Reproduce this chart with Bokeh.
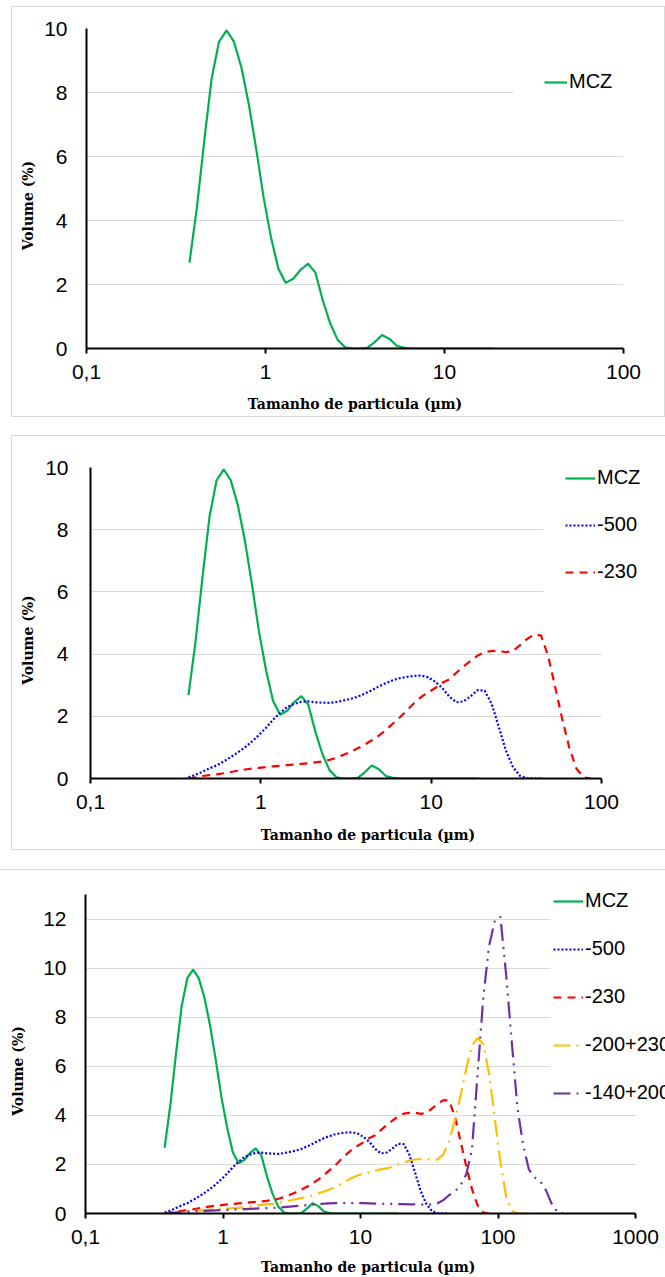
import math
from bokeh.plotting import figure
from bokeh.models import (FixedTicker, CustomJSTickFormatter, Legend, LegendItem,
                          BoxAnnotation, InlineStyleSheet, Range1d)
from bokeh.embed import file_html
from bokeh.resources import INLINE

# ---------------- data ----------------
size_um = [0.376, 0.414, 0.455, 0.500, 0.550, 0.606, 0.666, 0.733, 0.806, 0.887,
           0.975, 1.073, 1.180, 1.298, 1.428, 1.571, 1.728, 1.901, 2.091, 2.300,
           2.530, 2.783, 3.061, 3.367, 3.704, 4.074, 4.482, 4.930, 5.423, 5.965,
           6.562, 7.218, 7.940, 8.734, 9.607, 10.57, 11.62, 12.79, 14.06, 15.47,
           17.02, 18.72, 20.59, 22.65, 24.92, 27.41, 30.15, 33.17, 36.48, 40.13,
           44.14, 48.56, 53.41, 58.75, 64.63, 71.09, 78.20, 86.02, 94.62, 104.1,
           114.5, 125.9, 138.5, 152.4, 167.6, 184.4, 202.8, 223.1, 245.4, 270.0,
           297.0, 326.7]

mcz = [2.68, 4.42, 6.50, 8.43, 9.59, 9.94, 9.59, 8.79, 7.65, 6.24,
       4.73, 3.48, 2.49, 2.05, 2.18, 2.46, 2.65, 2.37, 1.50, 0.78,
       0.27, 0.04, 0.00, 0.00, 0.02, 0.20, 0.42, 0.30, 0.08, 0.02,
       0, 0, 0, 0, 0, 0, 0, 0, 0, 0, 0, 0]

m500 = [0.04, 0.12, 0.22, 0.33, 0.42, 0.55, 0.69, 0.84, 1.00, 1.19,
        1.40, 1.63, 1.89, 2.11, 2.30, 2.40, 2.47, 2.48, 2.45, 2.44,
        2.43, 2.46, 2.51, 2.56, 2.63, 2.73, 2.84, 2.96, 3.07, 3.16,
        3.23, 3.27, 3.30, 3.31, 3.25, 3.11, 2.91, 2.63, 2.45, 2.48,
        2.64, 2.84, 2.83, 2.40, 1.67, 0.91, 0.38, 0.09, 0.01, 0.00, 0.00]

m230 = [0.00, 0.04, 0.08, 0.11, 0.13, 0.17, 0.21, 0.25, 0.29, 0.32,
        0.34, 0.37, 0.39, 0.41, 0.43, 0.45, 0.47, 0.49, 0.52, 0.55,
        0.60, 0.67, 0.76, 0.86, 0.97, 1.09, 1.23, 1.38, 1.56, 1.77,
        1.97, 2.20, 2.42, 2.62, 2.77, 2.91, 3.08, 3.19, 3.40, 3.60,
        3.78, 3.95, 4.07, 4.10, 4.11, 4.06, 4.10, 4.28, 4.48, 4.62,
        4.60, 3.95, 2.95, 1.93, 1.00, 0.33, 0.04, 0.00]

m200_230 = [0.00, 0.02, 0.05, 0.07, 0.09, 0.11, 0.12, 0.14, 0.16, 0.17,
            0.19, 0.20, 0.22, 0.23, 0.26, 0.29, 0.32, 0.35, 0.37, 0.39,
            0.43, 0.48, 0.53, 0.58, 0.63, 0.67, 0.74, 0.82, 0.90, 0.98,
            1.08, 1.20, 1.33, 1.46, 1.56, 1.61, 1.68, 1.74, 1.80, 1.84,
            1.90, 2.00, 2.08, 2.15, 2.20, 2.22, 2.22, 2.19, 2.20, 2.42,
            2.95, 3.80, 4.80, 5.90, 6.85, 7.15, 6.90, 5.70, 3.90, 2.10,
            0.70, 0.10, 0.02, 0.00, 0.00]

m140_200 = [0.00, 0.02, 0.04, 0.06, 0.08, 0.09, 0.10, 0.11, 0.12, 0.13,
            0.14, 0.15, 0.16, 0.17, 0.18, 0.19, 0.20, 0.21, 0.22, 0.23,
            0.24, 0.26, 0.28, 0.30, 0.32, 0.34, 0.36, 0.38, 0.40, 0.41,
            0.42, 0.42, 0.42, 0.42, 0.42, 0.42, 0.41, 0.40, 0.40, 0.39,
            0.39, 0.38, 0.38, 0.37, 0.37, 0.36, 0.36, 0.37, 0.42, 0.55,
            0.75, 0.90, 1.15, 1.60, 2.60, 5.70, 8.80, 10.90, 11.90, 12.10,
            9.75, 7.00, 4.30, 2.80, 1.80, 1.47, 1.32, 0.95, 0.40, 0.06,
            0.00]

series_names = ["MCZ", "-500", "-230", "-200+230", "-140+200"]
series_values = [mcz, m500, m230, m200_230, m140_200]

x_ticks_100 = [0.1, 1, 10, 100]
x_ticks_1000 = [0.1, 1, 10, 100, 1000]
y_ticks_10 = [0, 2, 4, 6, 8, 10]
y_ticks_12 = [0, 2, 4, 6, 8, 10, 12]

x_title = "Tamanho de particula (µm)"
y_title = "Volume (%)"

# ---------------- styles ----------------
STYLE = {
    "MCZ": dict(color="#00B050", dash="solid"),
    "-500": dict(color="#0000FF", dash="2 2"),
    "-230": dict(color="#FF0000", dash="8 6"),
    "-200+230": dict(color="#FFC000", dash="17 6 2 6"),
    "-140+200": dict(color="#7030A0", dash="17 6 2 6 2 6"),
}
TICK_FONT = "Liberation Sans"
TITLE_FONT = "DejaVu Serif"
W = 665
NB = "\u00a0"


def make_panel(height, nseries, xmax, ymax, xticks, yticks,
               left, plot_right, frame_right, plot_top, top_extra, bottom,
               legend_loc, legend_gw, legend_spacing, mask,
               ylab_standoff, ytitle_standoff, xtitle_standoff,
               xtitle_pad, ytitle_pad, css):
    # plot area: x from `left` to `plot_right`, y from `plot_top` to height-bottom.
    # The frame is a little larger (right / top) so the legend is never clipped;
    # the axes keep their true extent through `bounds`.
    decade_px = (plot_right - left) / (math.log10(xmax) + 1)
    x_end = 10 ** (math.log10(xmax) + (frame_right - plot_right) / decade_px)
    plot_h = height - bottom - plot_top
    y_end = ymax + top_extra * ymax / plot_h
    p = figure(width=W, height=height, x_axis_type="log",
               x_range=Range1d(0.1, x_end), y_range=Range1d(0, y_end),
               output_backend="svg", toolbar_location=None,
               min_border_left=left, min_border_right=W - frame_right,
               min_border_top=plot_top - top_extra, min_border_bottom=bottom)
    p.outline_line_color = None
    p.background_fill_color = "white"
    p.border_fill_color = "white"
    p.xgrid.visible = False
    p.ygrid.grid_line_color = "#D9D9D9"
    p.ygrid.grid_line_width = 1
    p.ygrid.ticker = FixedTicker(ticks=yticks, minor_ticks=[])

    xa = p.xaxis[0]
    xa.bounds = (0.1, xmax)
    xa.ticker = FixedTicker(ticks=xticks, minor_ticks=[])
    xa.formatter = CustomJSTickFormatter(
        code="return tick < 1 ? String(tick).replace('.', ',') : String(tick);")
    xa.axis_line_color = "black"
    xa.axis_line_width = 2
    xa.major_tick_out = 5
    xa.major_tick_in = 0
    xa.major_tick_line_width = 2
    xa.major_tick_line_color = "black"
    xa.minor_tick_out = 0
    xa.minor_tick_in = 0
    xa.major_label_text_font = TICK_FONT
    xa.major_label_text_font_size = "21px"
    xa.major_label_text_color = "black"
    xa.major_label_standoff = 11
    xa.axis_label = x_title + NB * xtitle_pad
    xa.axis_label_text_font = TITLE_FONT
    xa.axis_label_text_font_style = "bold"
    xa.axis_label_text_font_size = "14px"
    xa.axis_label_text_color = "black"
    xa.axis_label_standoff = xtitle_standoff

    ya = p.yaxis[0]
    ya.bounds = (0, ymax)
    ya.ticker = FixedTicker(ticks=yticks, minor_ticks=[])
    ya.axis_line_color = "black"
    ya.axis_line_width = 2
    ya.major_tick_out = 0
    ya.major_tick_in = 0
    ya.minor_tick_out = 0
    ya.minor_tick_in = 0
    ya.major_label_text_font = TICK_FONT
    ya.major_label_text_font_size = "21px"
    ya.major_label_text_color = "black"
    ya.major_label_standoff = ylab_standoff
    ya.axis_label = y_title + NB * ytitle_pad
    ya.axis_label_text_font = TITLE_FONT
    ya.axis_label_text_font_style = "bold"
    ya.axis_label_text_font_size = "14px"
    ya.axis_label_text_color = "black"
    ya.axis_label_standoff = ytitle_standoff

    # white strip right of the plot area (grid lines stop at the last tick)
    p.add_layout(BoxAnnotation(left=plot_right - left, right=2000, bottom=-50, top=2000,
                               left_units="screen", right_units="screen",
                               bottom_units="screen", top_units="screen",
                               fill_color="white", fill_alpha=1.0,
                               line_alpha=0, level="underlay"))
    # white legend background hiding the upper grid lines
    ml, mb = mask
    p.add_layout(BoxAnnotation(left=ml, right=2000, bottom=mb, top=2000,
                               left_units="screen", right_units="screen",
                               bottom_units="screen", top_units="screen",
                               fill_color="white", fill_alpha=1.0,
                               line_alpha=0, level="underlay"))

    items = []
    for name, vals in zip(series_names[:nseries], series_values[:nseries]):
        st = STYLE[name]
        r = p.line(size_um[:len(vals)], vals, line_color=st["color"],
                   line_width=2.2, line_dash=st["dash"])
        items.append(LegendItem(label=name, renderers=[r]))

    legend = Legend(items=items, location=legend_loc, orientation="vertical",
                    glyph_width=legend_gw, glyph_height=20, label_height=20,
                    label_standoff=2, spacing=legend_spacing, padding=0, margin=0,
                    background_fill_alpha=0, border_line_color=None,
                    label_text_font=TICK_FONT, label_text_font_size="20px",
                    label_text_color="black")
    p.add_layout(legend)

    p.stylesheets = [InlineStyleSheet(css=css)]
    return p


css1 = (":host{position:relative;} :host::after{content:'';position:absolute;"
        "left:11px;top:6px;width:654px;height:411px;box-sizing:border-box;"
        "border:1px solid #D9D9D9;pointer-events:none;}")
css2 = (":host{position:relative;} :host::after{content:'';position:absolute;"
        "left:11px;top:9px;width:654px;height:415px;box-sizing:border-box;"
        "border:1px solid #D9D9D9;border-right:none;pointer-events:none;}")
css3 = (":host{position:relative;} :host::after{content:'';position:absolute;"
        "left:0px;top:9px;width:665px;height:1px;background:#D9D9D9;"
        "pointer-events:none;}")

p1 = make_panel(426, 1, 100, 10, x_ticks_100, y_ticks_10, 86, 623, 623, 28, 0, 78,
                (458, 255), 23, 24, (427, 228), 19, 5, 14, 0, 7, css1)
p2 = make_panel(434, 3, 100, 10, x_ticks_100, y_ticks_10, 90, 601, 645, 41, 0, 82,
                (475, 195), 30, 24, (453, 158), 22, 6, 15, 0, 7, css2)
p3 = make_panel(417, 5, 1000, 13, x_ticks_1000, y_ticks_12, 85, 635, 665, 34, 10, 64,
                (468, 109), 30, 25, (465, 123), 19, 14, 12, 3, 9, css3)

html = file_html([p1, p2, p3], INLINE)
open("out.html", "w").write(html)
